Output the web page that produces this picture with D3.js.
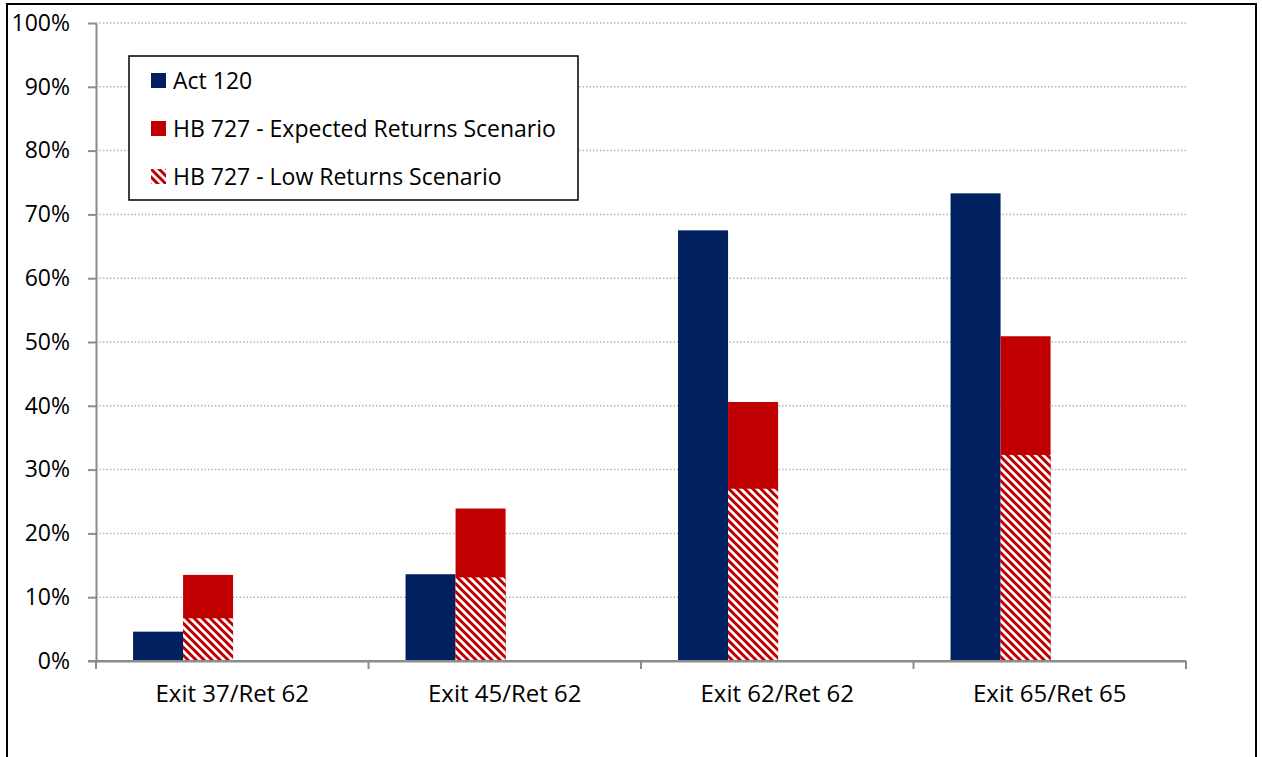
<!DOCTYPE html>
<html>
<head>
<meta charset="utf-8">
<script src="https://cdn.jsdelivr.net/npm/d3@7"></script>
<style>
    body { margin: 0; background: #fff; }
    svg text { font-family: "Open Sans", "Noto Sans", sans-serif; fill: #000; }
</style>
</head>
<body>
<div class="chart"></div>
<script>

// Chart values (percent)
var categories = ["Exit 37/Ret 62", "Exit 45/Ret 62", "Exit 62/Ret 62", "Exit 65/Ret 65"];
var act120 = [4.6, 13.6, 67.5, 73.3];
var hbExpected = [13.5, 23.9, 40.6, 50.9];
var hbLow = [6.7, 13.1, 27.0, 32.3];
var yTicks = [0, 10, 20, 30, 40, 50, 60, 70, 80, 90, 100];
var legendLabels = ["Act 120", "HB 727 - Expected Returns Scenario", "HB 727 - Low Returns Scenario"];

var width = 1262,
    height = 757;
var plot = { left: 96, right: 1186, top: 23, bottom: 661 };

var navy = "#002060",
    red = "#c00000",
    axisGrey = "#8c8c8c";

var svg = d3.select(".chart")
    .append("svg")
        .attr("width", width)
        .attr("height", height);

// Hatch pattern for the low returns scenario
var defs = svg.append("defs");
var hatch = defs.append("pattern")
    .attr("id", "hatch")
    .attr("patternUnits", "userSpaceOnUse")
    .attr("width", 8)
    .attr("height", 8);
hatch.append("rect")
    .attr("width", 8)
    .attr("height", 8)
    .attr("fill", "#fff");
hatch.append("path")
    .attr("d", "M-2,-2 L10,10 M6,-2 L10,2 M-2,6 L2,10")
    .attr("stroke", red)
    .attr("stroke-width", 3);

// Outer frame
svg.append("rect")
    .attr("x", 7)
    .attr("y", 4)
    .attr("width", 1249)
    .attr("height", 800)
    .attr("fill", "none")
    .attr("stroke", "#000")
    .attr("stroke-width", 2);

// Scales
var x = d3.scaleBand()
    .domain(categories)
    .range([plot.left, plot.right])
    .padding(0);

var y = d3.scaleLinear()
    .domain([0, 100])
    .range([plot.bottom, plot.top]);

var bw = x.bandwidth();
var barOffset = bw * 0.136,
    barWidth = bw * 0.1835;

// Dotted gridlines
svg.append("g")
    .selectAll("line")
    .data(yTicks.filter(function(d) { return d > 0; }))
    .enter().append("line")
        .attr("x1", plot.left)
        .attr("x2", plot.right)
        .attr("y1", function(d) { return y(d); })
        .attr("y2", function(d) { return y(d); })
        .attr("stroke", "#b4b4b4")
        .attr("stroke-width", 1.5)
        .attr("stroke-dasharray", "1.5,2");

// Y axis
var yAxis = d3.axisLeft(y)
    .tickValues(yTicks)
    .tickFormat(function(d) { return d + "%"; })
    .tickSizeInner(8)
    .tickSizeOuter(0)
    .tickPadding(18);

var gy = svg.append("g")
    .attr("transform", "translate(" + plot.left + ",0)")
    .call(yAxis);
gy.selectAll("text")
    .style("font-size", "23px")
    .attr("fill", "#000");

// X axis
var xAxis = d3.axisBottom(x)
    .tickSize(0)
    .tickPadding(24);

var gx = svg.append("g")
    .attr("transform", "translate(0," + plot.bottom + ")")
    .call(xAxis);
gx.selectAll("text")
    .style("font-size", "24px")
    .attr("fill", "#000");

// Boundary ticks between categories
var bounds = categories.map(function(c) { return x(c); }).concat([plot.right]);
gx.selectAll(".bound")
    .data(bounds)
    .enter().append("line")
        .attr("class", "bound")
        .attr("x1", function(d) { return d; })
        .attr("x2", function(d) { return d; })
        .attr("y1", 0)
        .attr("y2", 8);

svg.selectAll(".domain, .tick line, .bound")
    .attr("stroke", axisGrey)
    .attr("stroke-width", 2);

// Bars
svg.append("g")
    .selectAll("rect")
    .data(act120)
    .enter().append("rect")
        .attr("x", function(d, i) { return x(categories[i]) + barOffset; })
        .attr("y", function(d) { return y(d); })
        .attr("width", barWidth)
        .attr("height", function(d) { return y(0) - y(d); })
        .attr("fill", navy);

svg.append("g")
    .selectAll("rect")
    .data(hbExpected)
    .enter().append("rect")
        .attr("x", function(d, i) { return x(categories[i]) + barOffset + barWidth; })
        .attr("y", function(d) { return y(d); })
        .attr("width", barWidth)
        .attr("height", function(d) { return y(0) - y(d); })
        .attr("fill", red);

svg.append("g")
    .selectAll("rect")
    .data(hbLow)
    .enter().append("rect")
        .attr("x", function(d, i) { return x(categories[i]) + barOffset + barWidth; })
        .attr("y", function(d) { return y(d); })
        .attr("width", barWidth)
        .attr("height", function(d) { return y(0) - y(d); })
        .attr("fill", "url(#hatch)");

// redraw the axis line on top of the bars
svg.append("line")
    .attr("x1", plot.left - 8)
    .attr("x2", plot.right)
    .attr("y1", plot.bottom)
    .attr("y2", plot.bottom)
    .attr("stroke", axisGrey)
    .attr("stroke-width", 2);

// Legend
var legend = svg.append("g")
    .attr("transform", "translate(129,56)");

legend.append("rect")
    .attr("width", 449)
    .attr("height", 144)
    .attr("fill", "#fff")
    .attr("stroke", "#000")
    .attr("stroke-width", 1.5);

var fills = [navy, red, "url(#hatch)"];
var rows = legend.selectAll(".row")
    .data(legendLabels)
    .enter().append("g")
        .attr("class", "row")
        .attr("transform", function(d, i) { return "translate(22," + (17 + i * 48) + ")"; });

rows.append("rect")
    .attr("width", 15)
    .attr("height", 15)
    .attr("fill", function(d, i) { return fills[i]; });

rows.append("text")
    .attr("x", 22)
    .attr("y", 16)
    .style("font-size", "23px")
    .text(function(d) { return d; });

</script>
</body>
</html>
